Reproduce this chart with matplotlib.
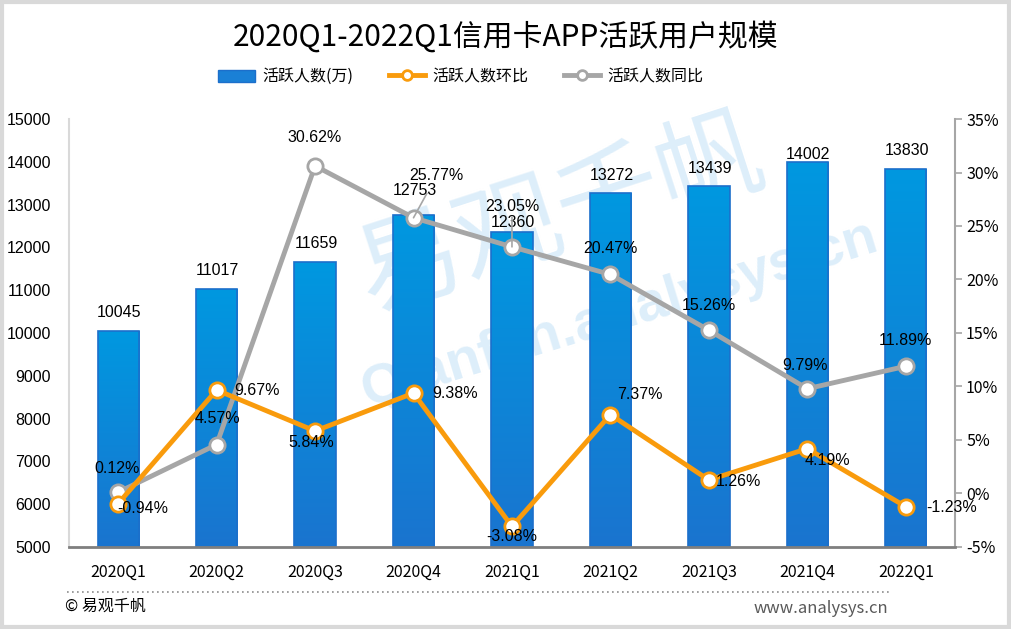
import numpy as np
import matplotlib
matplotlib.use("Agg")
import matplotlib.pyplot as plt
from matplotlib.patches import Rectangle
from matplotlib.lines import Line2D

# data
quarters = ["2020Q1", "2020Q2", "2020Q3", "2020Q4", "2021Q1",
            "2021Q2", "2021Q3", "2021Q4", "2022Q1"]
active_users = [10045, 11017, 11659, 12753, 12360, 13272, 13439, 14002, 13830]
qoq_pct = [-0.94, 9.67, 5.84, 9.38, -3.08, 7.37, 1.26, 4.19, -1.23]
yoy_pct = [0.12, 4.57, 30.62, 25.77, 23.05, 20.47, 15.26, 9.79, 11.89]

CJK = ["Noto Sans CJK SC", "DejaVu Sans"]
NUM = ["Liberation Sans", "DejaVu Sans"]
ORANGE = "#F99B0C"
GRAY = "#A6A6A6"
WM = "#DDEEFA"

fig = plt.figure(figsize=(10.11, 6.29), dpi=100)
ax = fig.add_axes([0.0682, 0.1304, 0.8764, 0.6804])
ax2 = ax.twinx()
ax.patch.set_visible(False)

x = np.arange(len(quarters))

# watermark, drawn before the axes
fig.text(0.554, 0.658, "易观千帆", fontsize=76, family=CJK, color=WM,
         rotation=18, ha="center", va="center", zorder=-1)
fig.text(0.613, 0.50, "Qianfan.analysys.cn", fontsize=40, family=NUM,
         fontweight="bold", color=WM, rotation=17, ha="center", va="center", zorder=-1)

# bars with vertical gradient
bar_w = 0.42
bars = ax.bar(x, active_users, width=bar_w, color="none",
              edgecolor="#1C6FCB", linewidth=1.2, zorder=2)
grad = np.linspace(0, 1, 256).reshape(-1, 1)
cmap = matplotlib.colors.LinearSegmentedColormap.from_list("b", ["#0098E0", "#1A74CF"])
for b in bars:
    x0, w, h = b.get_x(), b.get_width(), b.get_height()
    im = ax.imshow(grad, extent=[x0, x0 + w, 5000, h], origin="upper",
                   aspect="auto", cmap=cmap, zorder=1.5)
    im.set_clip_path(b)

bar_off = [19, 19, 18, 25, 9, 17, 17, 7, 19]
for xi, v, dy in zip(x, active_users, bar_off):
    ax.annotate(str(v), (xi, v), xytext=(1, dy), textcoords="offset pixels",
                ha="center", va="center", fontsize=11.5, family=NUM, zorder=3)

ax.set_xlim(-0.5, len(quarters) - 0.5)
ax.set_ylim(5000, 15000)
ax.set_yticks(range(5000, 15001, 1000))
ax.tick_params(axis="y", length=0, pad=13, labelsize=11.5)
for lab in ax.get_yticklabels():
    lab.set_family(NUM)
ax.set_xticks(x)
ax.set_xticklabels(quarters, family=CJK, fontsize=11.5)
ax.tick_params(axis="x", length=0, pad=12)

# lines
ax2.plot(x, yoy_pct, color=GRAY, lw=3.5, marker="o", ms=11, mfc="white",
         mec=GRAY, mew=2, zorder=4)
ax2.plot(x, qoq_pct, color=ORANGE, lw=3.5, marker="o", ms=11, mfc="white",
         mec=ORANGE, mew=2, zorder=5)
ax2.set_ylim(-5, 35)
ax2.set_yticks(range(-5, 36, 5))
ax2.set_yticklabels([f"{t}%" for t in range(-5, 36, 5)], family=CJK, fontsize=11.5)
ax2.tick_params(axis="y", length=5, width=1.2, color=GRAY, pad=3)

yoy_off = [(-1, 24), (1, 26), (0, 28), None, None, (0, 26), (0, 25), (-2, 23), (0, 26)]
for xi, v, off in zip(x, yoy_pct, yoy_off):
    if off is not None:
        ax2.annotate(f"{v:.2f}%", (xi, v), xytext=off, textcoords="offset pixels",
                     ha="center", va="center", fontsize=11.5, family=NUM, zorder=6)
# manually placed labels with leader lines
ax2.annotate(f"{yoy_pct[3]:.2f}%", (x[3], yoy_pct[3]), xytext=(23, 42),
             textcoords="offset pixels", ha="center", va="center", fontsize=11.5,
             family=NUM, zorder=6,
             arrowprops=dict(arrowstyle="-", color=GRAY, lw=1.2, shrinkA=6, shrinkB=0))
ax2.annotate(f"{yoy_pct[4]:.2f}%", (x[4], yoy_pct[4]), xytext=(0, 40),
             textcoords="offset pixels", ha="center", va="center", fontsize=11.5,
             family=NUM, zorder=6,
             arrowprops=dict(arrowstyle="-", color=GRAY, lw=1.2, shrinkA=22, shrinkB=0))

qoq_off = [(-1, -5, "left"), (18, 0, "left"), (-4, -12, "center"), (19, 0, "left"),
           (0, -10, "center"), (7, 20, "left"), (7, -1, "left"), (-3, -12, "left"),
           (20, -1, "left")]
for xi, v, (dx, dy, ha) in zip(x, qoq_pct, qoq_off):
    ax2.annotate(f"{v:.2f}%", (xi, v), xytext=(dx, dy), textcoords="offset pixels",
                 ha=ha, va="center", fontsize=11.5, family=NUM, zorder=6)

# spines
for a in (ax, ax2):
    for s in a.spines.values():
        s.set_visible(False)
ax.spines["left"].set_visible(True)
ax.spines["left"].set_color("#D9D9D9")
ax.spines["left"].set_linewidth(1.5)
ax2.spines["right"].set_visible(True)
ax2.spines["right"].set_color(GRAY)
ax2.spines["right"].set_linewidth(1.5)
ax2.spines["bottom"].set_visible(True)
ax2.spines["bottom"].set_color("#7F7F7F")
ax2.spines["bottom"].set_linewidth(2)

# title and legend
fig.text(0.5, 0.942, "2020Q1-2022Q1信用卡APP活跃用户规模", ha="center", va="center",
         fontsize=21.5, family=CJK)
handles = [
    Rectangle((0, 0), 1, 1, facecolor="#1A80D6", edgecolor="#1C6FCB"),
    Line2D([], [], color=ORANGE, lw=3.5, marker="o", ms=7, mfc="white", mec=ORANGE, mew=2),
    Line2D([], [], color=GRAY, lw=3.5, marker="o", ms=7, mfc="white", mec=GRAY, mew=2),
]
fig.legend(handles, ["活跃人数(万)", "活跃人数环比", "活跃人数同比"], loc="center",
           bbox_to_anchor=(0.456, 0.878), ncol=3, frameon=False,
           prop={"family": CJK, "size": 11.5}, handlelength=2.3, handleheight=0.8,
           columnspacing=2.2, handletextpad=0.45)

# footer
fig.add_artist(Line2D([0.066, 0.88], [0.059, 0.059], transform=fig.transFigure,
                      color="#8C8C8C", lw=1.2, ls=(0, (1, 2))))
fig.text(0.064, 0.036, "© 易观千帆", ha="left", va="center", fontsize=11.5, family=CJK)
fig.text(0.879, 0.033, "www.analysys.cn", ha="right", va="center", fontsize=12,
         family=CJK, color="#595959")

# outer border
fig.add_artist(Rectangle((0.0015, 0.0025), 0.997, 0.995, transform=fig.transFigure,
                         fill=False, edgecolor="#D9D9D9", lw=3))

fig.savefig("out.png", dpi=100)
